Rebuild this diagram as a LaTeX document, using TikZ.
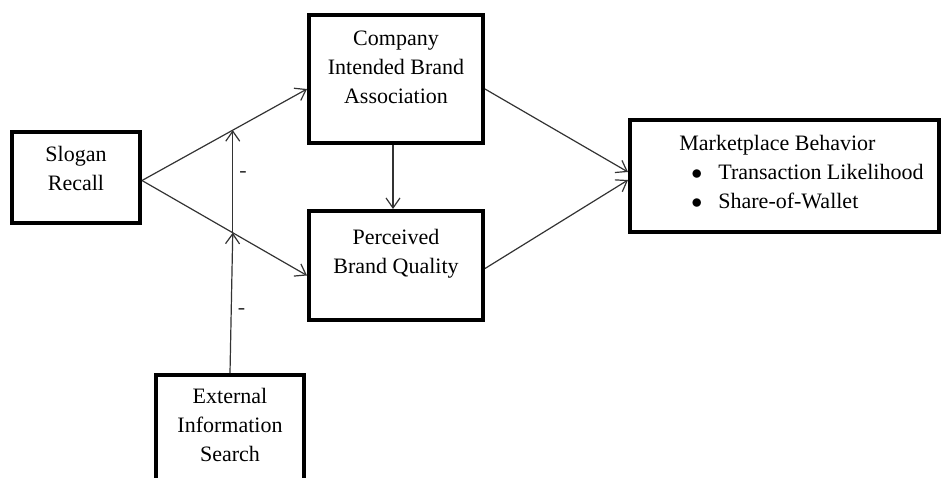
\documentclass[tikz,border=0pt]{standalone}
\usepackage{fontspec}
\setmainfont{Liberation Serif}
\usepackage{tikz}
\usetikzlibrary{positioning,arrows.meta}

\begin{document}
\begin{tikzpicture}[on grid,
  >={Straight Barb[length=5pt,width=7pt]},
  box/.style={draw,line width=2pt,inner sep=0pt},
  txt/.style={align=center,inner sep=0pt,font=\fontsize{11}{14.5}\selectfont},
  link/.style={->,line width=0.6pt,color=black!80},
  neg/.style={right=3pt,inner sep=0pt,font=\fontsize{11}{14.5}\selectfont}]
  \useasboundingbox (0,0) rectangle (471pt,-238.5pt);
  \clip (0,0) rectangle (471pt,-238.5pt);
  \node[box,minimum width=64pt,minimum height=45.5pt] (sr) at (38pt,-88.75pt) {};
  \node[box,minimum width=87pt,minimum height=64pt] (cia) [above right=49.25pt and 160pt of sr] {};
  \node[box,minimum width=87pt,minimum height=54.5pt] (pbq) [below=93.25pt of cia] {};
  \node[box,minimum width=154.5pt,minimum height=56pt] (mb) [below right=48.5pt and 194.25pt of cia] {};
  \node[box,minimum width=74pt,minimum height=75pt] (eis) [below right=136.25pt and 77pt of sr] {};
  \node[txt] (sr-t) [above=4.5pt of sr] {Slogan\\Recall};
  \node[txt] (cia-t) [above=6pt of cia] {Company\\Intended Brand\\Association};
  \node[txt] (pbq-t) [above=6pt of pbq] {Perceived\\Brand Quality};
  \node[txt] (eis-t) [above=12.5pt of eis] {External\\Information\\Search};
  \node[txt,align=left] (mb-t) [right=25.5pt of mb.west,anchor=west,yshift=1.75pt]
    {Marketplace Behavior\\
     \hspace*{6pt}\makebox[13.5pt][l]{$\bullet$}Transaction Likelihood\\
     \hspace*{6pt}\makebox[13.5pt][l]{$\bullet$}Share-of-Wallet};
  \path[link]
  ([yshift=-1.5pt]sr.east)
  edge node[coordinate,pos=.55] (j1) {} ([yshift=-5pt]cia.west)
  edge node[coordinate,pos=.55] (j2) {} ([yshift=-5pt]pbq.west)
  ([xshift=-1.5pt]cia.south)
  edge ([xshift=-1.5pt]pbq.north)
  ([yshift=-5pt]cia.east)
  edge ([yshift=2pt]mb.west)
  ([yshift=-1.5pt]pbq.east)
  edge ([yshift=-2pt]mb.west)
  ;
  \path[link]
  (eis.north)
  edge node[neg,pos=.44] {-} (j2)
  (j2)
  edge node[neg,pos=.57] {-} (j1)
  ;
\end{tikzpicture}
\end{document}
